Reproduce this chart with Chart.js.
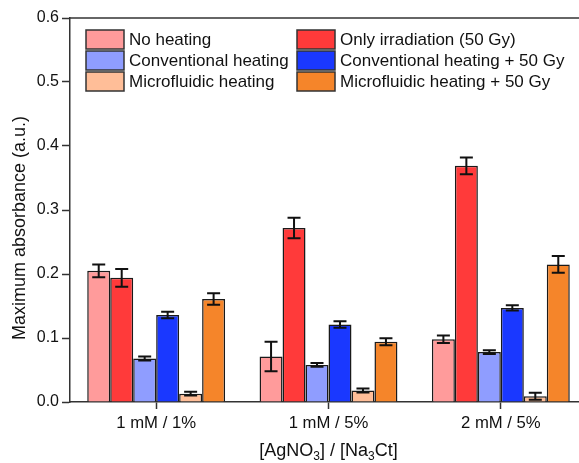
<!DOCTYPE html>
<html>
<head>
<meta charset="utf-8">
<script src="https://cdn.jsdelivr.net/npm/chart.js@4.4.1/dist/chart.umd.min.js"></script>
<style>
  html, body { margin: 0; padding: 0; background: #fff; overflow: hidden; }
  #wrap { position: relative; width: 590px; height: 463px; }
</style>
</head>
<body>
<div id="wrap"><canvas id="absChart"></canvas></div>
<script>
// Samples ([AgNO3] / [Na3Ct])
const categories = ['1 mM / 1%', '1 mM / 5%', '2 mM / 5%'];

// Maximum absorbance per treatment, with standard deviations
const noHeating      = [0.205, 0.071, 0.098];
const noHeatingErr   = [0.010, 0.023, 0.006];
const onlyIrr        = [0.194, 0.272, 0.369];
const onlyIrrErr     = [0.014, 0.016, 0.013];
const convHeat       = [0.068, 0.058, 0.078];
const convHeatErr    = [0.003, 0.003, 0.003];
const convHeat50     = [0.136, 0.121, 0.147];
const convHeat50Err  = [0.005, 0.005, 0.004];
const microHeat      = [0.013, 0.018, 0.009];
const microHeatErr   = [0.003, 0.003, 0.0055];
const microHeat50    = [0.161, 0.094, 0.215];
const microHeat50Err = [0.009, 0.0055, 0.013];

const seriesNames = ['No heating', 'Only irradiation (50 Gy)', 'Conventional heating',
                     'Conventional heating + 50 Gy', 'Microfluidic heating', 'Microfluidic heating + 50 Gy'];
const seriesColors = ['#FF9B9B', '#FF3A3A', '#8F9DFF', '#1A38FF', '#FFBE98', '#F5852A'];
const seriesValues = [noHeating, onlyIrr, convHeat, convHeat50, microHeat, microHeat50];
const seriesErrors = [noHeatingErr, onlyIrrErr, convHeatErr, convHeat50Err, microHeatErr, microHeat50Err];

const yTicks = [0, 0.1, 0.2, 0.3, 0.4, 0.5, 0.6];

const FONT = '"Liberation Sans", Arial, sans-serif';
const INK = '#111';

// error bars on top of each bar
const errorBarPlugin = {
    id: 'errorBars',
    afterDatasetsDraw(chart) {
        const ctx = chart.ctx;
        const yScale = chart.scales.y;
        ctx.save();
        ctx.strokeStyle = '#111';
        ctx.lineWidth = 2;
        chart.data.datasets.forEach((ds, di) => {
            const meta = chart.getDatasetMeta(di);
            meta.data.forEach((bar, i) => {
                const v = ds.data[i];
                const e = ds.errors[i];
                const yTop = yScale.getPixelForValue(v + e);
                const yBot = yScale.getPixelForValue(v - e);
                const half = 6.5;
                ctx.beginPath();
                ctx.moveTo(bar.x, yTop);
                ctx.lineTo(bar.x, yBot);
                ctx.moveTo(bar.x - half, yTop);
                ctx.lineTo(bar.x + half, yTop);
                ctx.moveTo(bar.x - half, yBot);
                ctx.lineTo(bar.x + half, yBot);
                ctx.stroke();
            });
        });
        ctx.restore();
    }
};

// two-column legend inside the plot, frame top line and axis titles
const decorPlugin = {
    id: 'decor',
    afterDraw(chart) {
        const ctx = chart.ctx;
        const area = chart.chartArea;
        ctx.save();

        // top frame line
        ctx.strokeStyle = '#333';
        ctx.lineWidth = 1.5;
        ctx.beginPath();
        ctx.moveTo(area.left, area.top);
        ctx.lineTo(chart.width, area.top);
        ctx.stroke();

        // legend
        const colX = [area.left + 16, area.left + 227];
        const rowY0 = area.top + 12;
        const rowStep = 21;
        ctx.font = '17px ' + FONT;
        ctx.textBaseline = 'middle';
        ctx.textAlign = 'left';
        chart.data.datasets.forEach((ds, i) => {
            const col = i % 2;
            const row = Math.floor(i / 2);
            const x = colX[col];
            const y = rowY0 + row * rowStep;
            ctx.fillStyle = ds.backgroundColor;
            ctx.fillRect(x, y, 38, 19);
            ctx.strokeStyle = '#333';
            ctx.lineWidth = 1.5;
            ctx.strokeRect(x, y, 38, 19);
            ctx.fillStyle = INK;
            ctx.fillText(ds.label, x + 43, y + 10);
        });

        // y title
        ctx.font = '18px ' + FONT;
        ctx.fillStyle = INK;
        ctx.save();
        ctx.translate(20, 228);
        ctx.rotate(-Math.PI / 2);
        ctx.textAlign = 'center';
        ctx.textBaseline = 'middle';
        ctx.fillText('Maximum absorbance (a.u.)', 0, 0);
        ctx.restore();

        // x title with subscripts
        const parts = [['[AgNO', false], ['3', true], ['] / [Na', false], ['3', true], ['Ct]', false]];
        const big = '18px ' + FONT, small = '12px ' + FONT;
        let total = 0;
        parts.forEach(p => { ctx.font = p[1] ? small : big; total += ctx.measureText(p[0]).width; });
        let x = (area.left + area.right) / 2 - total / 2;
        const baseY = 456;
        ctx.textAlign = 'left';
        ctx.textBaseline = 'alphabetic';
        parts.forEach(p => {
            ctx.font = p[1] ? small : big;
            ctx.fillText(p[0], x, p[1] ? baseY + 4 : baseY);
            x += ctx.measureText(p[0]).width;
        });
        ctx.restore();
    }
};

const datasets = seriesNames.map((name, i) => ({
    label: name,
    data: seriesValues[i],
    errors: seriesErrors[i],
    backgroundColor: seriesColors[i],
    borderColor: '#1a1a1a',
    borderWidth: 1.5,
    categoryPercentage: 0.8,
    barPercentage: 1.0
}));

new Chart(document.getElementById('absChart'), {
    type: 'bar',
    data: { labels: categories, datasets: datasets },
    options: {
        responsive: true,
        maintainAspectRatio: false,
        animation: false,
        layout: { padding: { top: 18, right: 3, left: 0, bottom: 0 } },
        plugins: {
            legend: { display: false },
            tooltip: { enabled: false }
        },
        scales: {
            x: {
                offset: true,
                grid: {
                    offset: false,
                    drawOnChartArea: false,
                    drawTicks: true,
                    tickLength: 7,
                    tickColor: '#333',
                    tickWidth: 1.5
                },
                border: { display: true, color: '#333', width: 1.5 },
                ticks: {
                    color: INK,
                    font: { family: FONT, size: 16.7 },
                    padding: 4,
                    maxRotation: 0
                },
                afterFit(scale) { scale.height = 61; }
            },
            y: {
                min: 0,
                max: 0.6,
                afterBuildTicks(scale) { scale.ticks = yTicks.map(v => ({ value: v })); },
                grid: {
                    drawOnChartArea: false,
                    drawTicks: true,
                    tickLength: 8,
                    tickColor: '#333',
                    tickWidth: 1.5
                },
                border: { display: true, color: '#333', width: 1.5 },
                ticks: {
                    color: INK,
                    font: { family: FONT, size: 16 },
                    padding: 3,
                    callback: v => v.toFixed(1)
                },
                afterFit(scale) { scale.width = 70; }
            }
        }
    },
    plugins: [errorBarPlugin, decorPlugin]
});
</script>
</body>
</html>
